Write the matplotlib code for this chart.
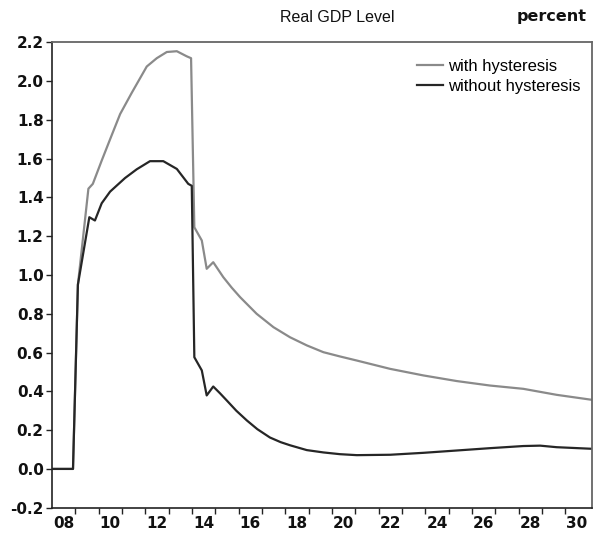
import matplotlib
matplotlib.use("Agg")
import matplotlib.pyplot as plt
from matplotlib.lines import Line2D

# ---- data (decimal years, percent) ----
gray_x = [2008.05, 2008.90, 2009.11, 2009.56, 2009.75, 2010.13, 2010.49, 2010.92,
          2011.42, 2012.06, 2012.49, 2012.92, 2013.35, 2013.77, 2013.96, 2014.10,
          2014.42, 2014.63, 2014.91, 2015.34, 2015.70, 2016.06, 2016.77, 2017.49,
          2018.20, 2018.92, 2019.63, 2020.34, 2021.06, 2022.49, 2023.92, 2025.35,
          2026.77, 2028.20, 2029.63, 2031.10]
gray_y = [0.0, 0.0, 0.95, 1.445, 1.47, 1.59, 1.70, 1.83,
          1.94, 2.075, 2.118, 2.150, 2.154, 2.128, 2.118, 1.246,
          1.178, 1.032, 1.066, 0.989, 0.935, 0.886, 0.80, 0.731,
          0.679, 0.637, 0.602, 0.580, 0.559, 0.516, 0.482, 0.453,
          0.43, 0.413, 0.382, 0.357]

black_x = [2008.05, 2008.90, 2009.11, 2009.60, 2009.84, 2010.13, 2010.49, 2011.13,
           2011.63, 2012.20, 2012.77, 2013.35, 2013.84, 2013.99, 2014.10, 2014.42,
           2014.63, 2014.91, 2015.20, 2015.49, 2015.90, 2016.35, 2016.80, 2017.34,
           2017.80, 2018.20, 2018.92, 2019.63, 2020.34, 2021.06, 2022.49, 2023.92,
           2025.35, 2026.77, 2028.20, 2028.92, 2029.63, 2031.10]
black_y = [0.0, 0.0, 0.95, 1.298, 1.281, 1.37, 1.43, 1.50,
           1.545, 1.587, 1.587, 1.547, 1.47, 1.46, 0.576, 0.508,
           0.379, 0.425, 0.39, 0.353, 0.30, 0.25, 0.205, 0.162,
           0.138, 0.122, 0.097, 0.085, 0.076, 0.071, 0.073, 0.083,
           0.095, 0.107, 0.118, 0.12, 0.112, 0.104]

series_labels = ["with hysteresis", "without hysteresis"]
y_ticks = [-0.2, 0.0, 0.2, 0.4, 0.6, 0.8, 1.0, 1.2, 1.4, 1.6, 1.8, 2.0, 2.2]
x_years = list(range(2008, 2031))
x_labels = ["%02d" % (y % 100) for y in x_years if y % 2 == 0]

GRAY = "#8a8a8a"
BLACK = "#262626"

fig = plt.figure(figsize=(5.95, 5.33), dpi=100)
ax = fig.add_axes([52 / 595, 1 - 507.7 / 533, (591.7 - 52) / 595, (507.7 - 42.3) / 533])

ax.plot(gray_x, gray_y, color=GRAY, lw=1.6, solid_joinstyle="round")
ax.plot(black_x, black_y, color=BLACK, lw=1.6, solid_joinstyle="round")

ax.set_xlim(2008.0, 2031.13)
ax.set_ylim(-0.2, 2.2)

ax.set_yticks(y_ticks)
ax.set_yticklabels(["%.1f" % v for v in y_ticks])
ax.set_xticks(x_years[1:])
ax.set_xticklabels([])
ax.set_xticks([y + 0.5 for y in x_years if y % 2 == 0], minor=True)
ax.set_xticklabels(x_labels, minor=True)

for lab in ax.get_yticklabels() + ax.get_xticklabels(minor=True):
    lab.set_fontfamily("DejaVu Sans")
    lab.set_fontweight("bold")
    lab.set_fontsize(11)
    lab.set_color("#111111")

ax.tick_params(axis="y", direction="out", length=4, width=1, pad=2, color="#222222")
ax.tick_params(axis="x", which="major", direction="out", length=4, width=1, color="#222222")
ax.tick_params(axis="x", which="minor", length=0, pad=6)

for side in ["left", "bottom"]:
    ax.spines[side].set_color("#222222")
    ax.spines[side].set_linewidth(1.2)
for side in ["top", "right"]:
    ax.spines[side].set_color("#666666")
    ax.spines[side].set_linewidth(1.3)

fig.text(337 / 595, 1 - 17 / 533, "Real GDP Level", ha="center", va="center",
         family="Liberation Sans", fontsize=11.5, color="#111111")
fig.text(587 / 595, 1 - 17 / 533, "percent", ha="right", va="center",
         family="DejaVu Sans", weight="bold", fontsize=11.5, color="#111111")

handles = [Line2D([0], [0], color=GRAY, lw=1.6), Line2D([0], [0], color=BLACK, lw=1.6)]
leg = ax.legend(handles, series_labels, loc="upper left",
                bbox_to_anchor=((416.7 - 52) / 539.7, (507.7 - 59) / 465.4),
                frameon=False, borderpad=0, borderaxespad=0,
                handlelength=1.6, handletextpad=0.3, labelspacing=0.28,
                prop=dict(family="Liberation Sans", size=12))

fig.savefig("out.png", dpi=100)
